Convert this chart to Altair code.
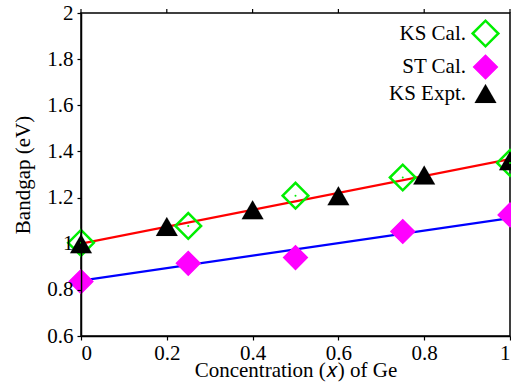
import altair as alt
import pandas as pd

# KS calculated (open green diamonds)
ks_cal_x = [0.0, 0.25, 0.5, 0.75, 1.0]
ks_cal_y = [1.004, 1.077, 1.208, 1.287, 1.35]
# ST calculated (magenta diamonds)
st_cal_x = [0.0, 0.25, 0.5, 0.75, 1.0]
st_cal_y = [0.836, 0.915, 0.94, 1.053, 1.125]
# KS experimental (black triangles)
ks_exp_x = [0.0, 0.2, 0.4, 0.6, 0.8, 1.0]
ks_exp_y = [1.0, 1.075, 1.147, 1.208, 1.298, 1.36]
# fit lines
red_x = [0.0, 1.0]
red_y = [1.0, 1.367]
blue_x = [0.0, 1.0]
blue_y = [0.84, 1.111]

series = ["KS Cal.", "ST Cal.", "KS Expt."]
x_ticks = [0, 0.2, 0.4, 0.6, 0.8, 1.0]
y_ticks = [0.6, 0.8, 1.0, 1.2, 1.4, 1.6, 1.8, 2.0]

FONT = "Liberation Serif"

pts = pd.concat([
    pd.DataFrame({"x": ks_cal_x, "y": ks_cal_y, "s": series[0]}),
    pd.DataFrame({"x": st_cal_x, "y": st_cal_y, "s": series[1]}),
    pd.DataFrame({"x": ks_exp_x, "y": ks_exp_y, "s": series[2]}),
])
lines = pd.concat([
    pd.DataFrame({"x": red_x, "y": red_y, "l": "red"}),
    pd.DataFrame({"x": blue_x, "y": blue_y, "l": "blue"}),
])
ticks_df = pd.DataFrame({"t": x_ticks})
dots_df = pd.DataFrame({"x": ks_cal_x, "y": ks_cal_y})

xscale = alt.Scale(domain=[0, 1], nice=False, zero=False)
yscale = alt.Scale(domain=[0.6, 2.0], nice=False, zero=False)

xaxis = alt.Axis(values=x_ticks, format="~g", title="Concentration (𝑥) of Ge",
                 grid=False, tickSize=4, labelPadding=2, titlePadding={"expr": "-4"},
                 domainColor="black", tickColor="black", zindex=1,
                 labelFont=FONT, labelFontSize=21, labelColor="black",
                 titleFont=FONT, titleFontSize=21, titleColor="black", titleFontWeight="normal")
yaxis = alt.Axis(values=y_ticks, format="~g", title="Bandgap (eV)",
                 grid=False, tickSize=4, labelPadding=4, titlePadding=13,
                 domainColor="black", tickColor="black", zindex=1,
                 labelFont=FONT, labelFontSize=21, labelColor="black",
                 titleFont=FONT, titleFontSize=21, titleColor="black", titleFontWeight="normal")

line_layer = alt.Chart(lines).mark_line(strokeWidth=2.2, clip=True).encode(
    x=alt.X("x:Q", scale=xscale, axis=xaxis),
    y=alt.Y("y:Q", scale=yscale, axis=yaxis),
    color=alt.Color("l:N", scale=alt.Scale(domain=["red", "blue"], range=["#ff0000", "#0000ff"]), legend=None),
    detail="l:N",
)

leg = alt.Legend(
    title=None, orient="none", legendX=390, legendY=6, padding=0,
    labelAlign="right", labelOffset={"expr": "-34"}, labelFont=FONT, labelFontSize=21,
    labelColor="black", rowPadding=0, symbolStrokeWidth=2.5, labelLimit=200,
)

point_layer = alt.Chart(pts).mark_point(filled=False, opacity=1, strokeWidth=2.5).encode(
    x=alt.X("x:Q", scale=xscale),
    y=alt.Y("y:Q", scale=yscale),
    shape=alt.Shape("s:N", scale=alt.Scale(domain=series, range=["diamond", "diamond", "triangle-up"]), legend=leg),
    stroke=alt.Stroke("s:N", scale=alt.Scale(domain=series, range=["#00ee00", "#ff00ff", "#000000"]), legend=leg),
    fill=alt.Fill("s:N", scale=alt.Scale(domain=series, range=["rgba(0,0,0,0)", "#ff00ff", "#000000"]), legend=leg),
    size=alt.Size("s:N", scale=alt.Scale(domain=series, range=[660, 480, 430]), legend=leg),
    strokeWidth=alt.StrokeWidth("s:N", scale=alt.Scale(domain=series, range=[2.5, 0.1, 0.1]), legend=leg),
)

dot_layer = alt.Chart(dots_df).mark_point(filled=True, size=4, color="#00ee00", opacity=1).encode(
    x=alt.X("x:Q", scale=xscale),
    y=alt.Y("y:Q", scale=yscale),
)

top_ticks = alt.Chart(ticks_df).mark_rule(color="black", strokeWidth=1.2).encode(
    x=alt.X("t:Q", scale=xscale),
    y=alt.value(-4),
    y2=alt.value(0),
)

chart = alt.layer(line_layer, point_layer, dot_layer, top_ticks).properties(
    width=429, height=323,
    background="white",
    autosize=alt.AutoSizeParams(type="none"),
    padding={"left": 81, "top": 13, "right": 1, "bottom": 53},
).configure_view(
    stroke="black", strokeWidth=1.5,
).configure_axis(
    domainWidth=1.5, tickWidth=1.2,
)

chart.save("out.html", embed_options={"renderer": "svg", "actions": False})
